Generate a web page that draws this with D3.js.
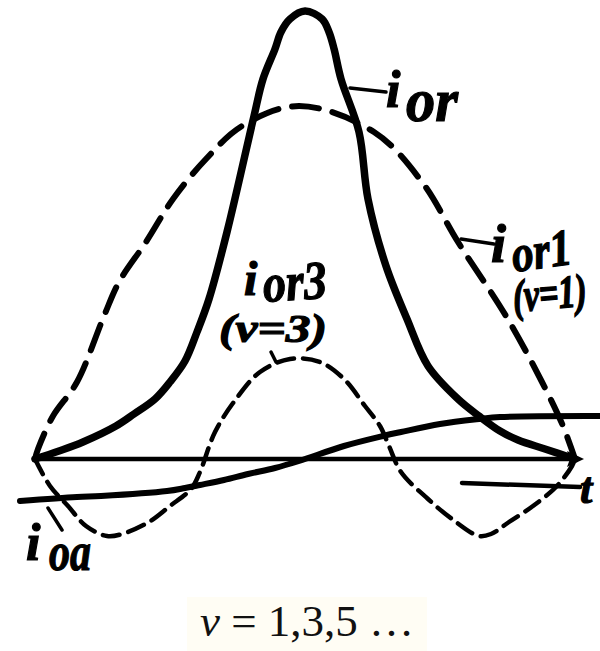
<!DOCTYPE html>
<html>
<head>
<meta charset="utf-8">
<script src="https://cdn.jsdelivr.net/npm/d3@7/dist/d3.min.js"></script>
<style>
  html, body { margin: 0; padding: 0; background: #fff; }
  svg { display: block; }
  .lbl { font-family: "Liberation Serif", "Times New Roman", serif; font-weight: bold; font-style: italic;
         fill: #000; stroke: #000; stroke-width: 1.2px; }
</style>
</head>
<body>
<svg id="chart" width="600" height="651"></svg>
<script>
// Phase angle of the half-period (degrees) and current values (arbitrary units)
const orT  = [0, 8, 16, 27, 33, 40, 45, 50, 54, 58, 64, 73, 76, 80, 82, 85, 90, 95.7, 98, 99.7, 102, 108, 111, 117, 124, 131, 141, 148, 155, 161, 170, 180];
const orV  = [0, 0.08, 0.17, 0.33, 0.45, 0.60, 0.77, 0.98, 1.27, 1.60, 2.27, 3.43, 3.80, 4.10, 4.27, 4.40, 4.48, 4.40, 4.27, 4.10, 3.80, 3.27, 2.60, 1.93, 1.40, 0.93, 0.60, 0.43, 0.28, 0.19, 0.10, 0];

const or1T = [0, 1, 6, 14, 23, 28, 37, 46, 57, 69, 88, 113, 129, 141, 157, 169, 176, 180];
const or1V = [0, 0.10, 0.43, 0.77, 1.43, 1.77, 2.17, 2.60, 3.00, 3.33, 3.53, 3.27, 2.77, 2.17, 1.43, 0.77, 0.33, 0];

const or3T = [0, 5, 11, 17, 24, 29, 38, 45, 52, 55, 60, 67, 75, 85, 95, 103, 110, 115, 118, 122, 131, 139, 148, 152, 158, 166, 174, 179, 180];
const or3V = [0, -0.27, -0.47, -0.67, -0.77, -0.75, -0.63, -0.47, -0.30, -0.13, 0.27, 0.60, 0.87, 1.00, 0.97, 0.80, 0.53, 0.33, 0.13, -0.13, -0.40, -0.60, -0.77, -0.75, -0.63, -0.47, -0.27, -0.07, 0];

const oaT  = [-5, 14, 22, 44, 50, 55, 63, 71, 80, 88, 103, 116, 122, 135, 148, 155, 188];
const oaV  = [-0.42, -0.38, -0.37, -0.32, -0.29, -0.26, -0.21, -0.15, -0.09, -0.02, 0.13, 0.23, 0.27, 0.35, 0.40, 0.42, 0.43];

const axisSpan = [0, 181];          // time axis, degrees
const formula  = "= 1,3,5 …";

const svg = d3.select("#chart");
const x = d3.scaleLinear().domain([0, 180]).range([35, 575]);
const y = d3.scaleLinear().domain([0, 4.6]).range([459, -1]);

const zip = (t, v) => t.map((d, i) => [d, v[i]]);
const line = d3.line()
  .x(d => x(d[0])).y(d => y(d[1]))
  .curve(d3.curveCatmullRom.alpha(0.5));

// faint backing of the formula
svg.append("rect").attr("x", 187).attr("y", 597).attr("width", 240).attr("height", 54)
  .attr("fill", "#fffdf4");

// time axis with arrow
svg.append("line")
  .attr("x1", x(axisSpan[0])).attr("x2", x(axisSpan[1]))
  .attr("y1", y(0)).attr("y2", y(0))
  .attr("stroke", "#000").attr("stroke-width", 4.5);
svg.append("path")
  .attr("d", `M${x(axisSpan[1]) + 6},${y(0)} l-17,-8 l3,8 l-3,8 z`)
  .attr("fill", "#000");

const curve = (data, w, dash) => svg.append("path")
  .attr("d", line(data))
  .attr("fill", "none").attr("stroke", "#000")
  .attr("stroke-width", w)
  .attr("stroke-linecap", "round").attr("stroke-linejoin", "round")
  .attr("stroke-dasharray", dash || null);

curve(zip(oaT, oaV), 6);
curve(zip(or3T, or3V), 4.5, "17,9");
curve(zip(or1T, or1V), 6, "27,14");
curve(zip(orT, orV), 7.5);

// leader lines
const lead = (x1, y1, x2, y2, w) => svg.append("line")
  .attr("x1", x1).attr("y1", y1).attr("x2", x2).attr("y2", y2)
  .attr("stroke", "#000").attr("stroke-width", w).attr("stroke-linecap", "round");
lead(350, 88, 386, 92, 3.5);
lead(461, 239, 494, 244, 3.5);
lead(271, 352, 276, 362, 3.5);
lead(48, 508, 62, 530, 3.5);
lead(462, 483, 580, 487, 4.5);

// labels
const txt = (s, px, py, fs, opts = {}) => {
  const t = svg.append("text").attr("class", "lbl")
    .attr("x", px).attr("y", py).attr("font-size", fs).text(s);
  if (opts.len) t.attr("textLength", opts.len).attr("lengthAdjust", "spacingAndGlyphs");
  const tr = [];
  if (opts.rot) tr.push(`rotate(${opts.rot},${px},${py})`);
  if (opts.sy) tr.push(`translate(0,${py}) scale(1,${opts.sy}) translate(0,${-py})`);
  if (tr.length) t.attr("transform", tr.join(" "));
  return t;
};
txt("i", 386, 107, 52);
txt("or", 406, 121, 62, { len: 52 });

txt("i", 491, 262, 54);
txt("or1", 514, 272, 52, { len: 60, rot: -8 });
txt("(ν=1)", 514, 312, 37, { len: 74, rot: -5, sy: 1.25 });

txt("i", 244, 295, 48);
txt("or3", 264, 302, 54, { len: 64, rot: -4 });
txt("(ν=3)", 219, 342, 41, { len: 108 });

txt("i", 26, 560, 52);
txt("oa", 49, 570, 54, { len: 42 });

txt("t", 580, 503, 44);

// harmonic orders
const f = svg.append("text")
  .attr("x", 307).attr("y", 636)
  .attr("text-anchor", "middle")
  .attr("font-family", "'Liberation Serif', serif")
  .attr("font-size", 45).attr("fill", "#111");
f.append("tspan").attr("font-style", "italic").text("ν");
f.append("tspan").text(" " + formula);
</script>
</body>
</html>
